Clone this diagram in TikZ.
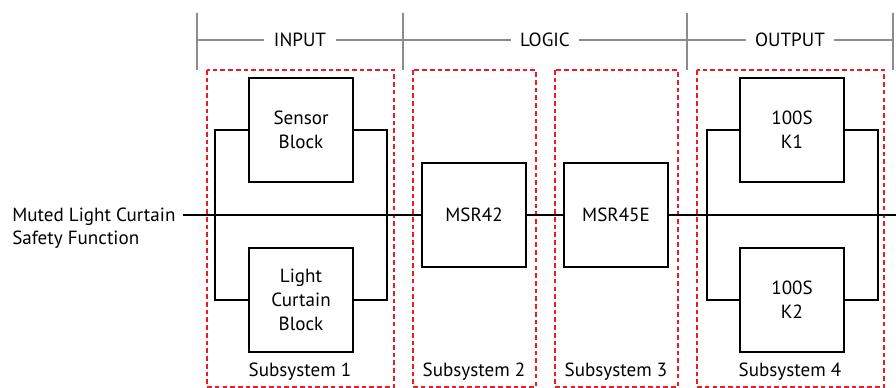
\documentclass[tikz,border=0pt]{standalone}
\usepackage{fontspec}
\setmainfont{PT Sans}
\definecolor{dashred}{HTML}{ED1C24}
\definecolor{headgray}{HTML}{8C8C8C}

\begin{document}
\begin{tikzpicture}[x=0.75pt,y=-0.75pt,
    font=\fontsize{14.3}{17.8}\selectfont,
    block/.style={draw,line width=2.1pt,minimum size=78pt,inner sep=0pt,align=center},
    wire/.style={line width=2.1pt},
    subsys/.style={draw=dashred,line width=1.7pt,dash pattern=on 3.5pt off 2.3pt},
    tick/.style={draw=headgray,line width=1.3pt},
    phase/.style={inner xsep=7pt}]
  \useasboundingbox (0,0) rectangle (896,388);
  \draw[subsys] (207,70) rectangle (394,387);
  \draw[subsys] (413,70) rectangle (536,387);
  \draw[subsys] (555,70) rectangle (678,387);
  \draw[subsys] (697,70) rectangle (884,387);
  \foreach \x in {197,403,687,893} \draw[tick] (\x,13) -- (\x,70);
  \coordinate (h1) at (197,40);
  \coordinate (h2) at (403,40);
  \coordinate (h3) at (687,40);
  \coordinate (h4) at (893,40);
  \node[phase] (input) at (300,40) {INPUT};
  \node[phase] (logic) at (545,40) {LOGIC};
  \node[phase] (output) at (790,40) {OUTPUT};
  \draw[headgray,line width=0.8pt] (h1) -- (input) (input) -- (h2) -- (logic)
    (logic) -- (h3) -- (output) (output) -- (h4);
  \node[block] (sensor) at (301,130) {Sensor\\Block};
  \node[block] (curtain) at (301,300) {Light\\Curtain\\Block};
  \node[block] (msr42) at (474,215) {MSR42};
  \node[block] (msr45) at (616,215) {MSR45E};
  \node[block] (k1) at (792,130) {100S\\K1};
  \node[block] (k2) at (792,300) {100S\\K2};
  \node[align=left,anchor=base west,inner sep=0pt] (func) at (12,245)
    {Muted Light Curtain\\Safety Function};
  \coordinate (in) at (183,215);
  \coordinate (out) at (896,215);
  \coordinate (inL) at (215,215);
  \coordinate (inR) at (387,215);
  \coordinate (outL) at (707,215);
  \coordinate (outR) at (878,215);
  \draw[wire] (in) -- (msr42);
  \draw[wire] (msr42) -- (msr45);
  \draw[wire] (msr45) -- (out);
  \draw[wire] (sensor.west) -| (inL) |- (curtain.west);
  \draw[wire] (sensor.east) -| (inR) |- (curtain.east);
  \draw[wire] (k1.west) -| (outL) |- (k2.west);
  \draw[wire] (k1.east) -| (outR) |- (k2.east);
  \node (sub1) at (300,372) {Subsystem 1};
  \node (sub2) at (474,372) {Subsystem 2};
  \node (sub3) at (616,372) {Subsystem 3};
  \node (sub4) at (790,372) {Subsystem 4};
\end{tikzpicture}
\end{document}
